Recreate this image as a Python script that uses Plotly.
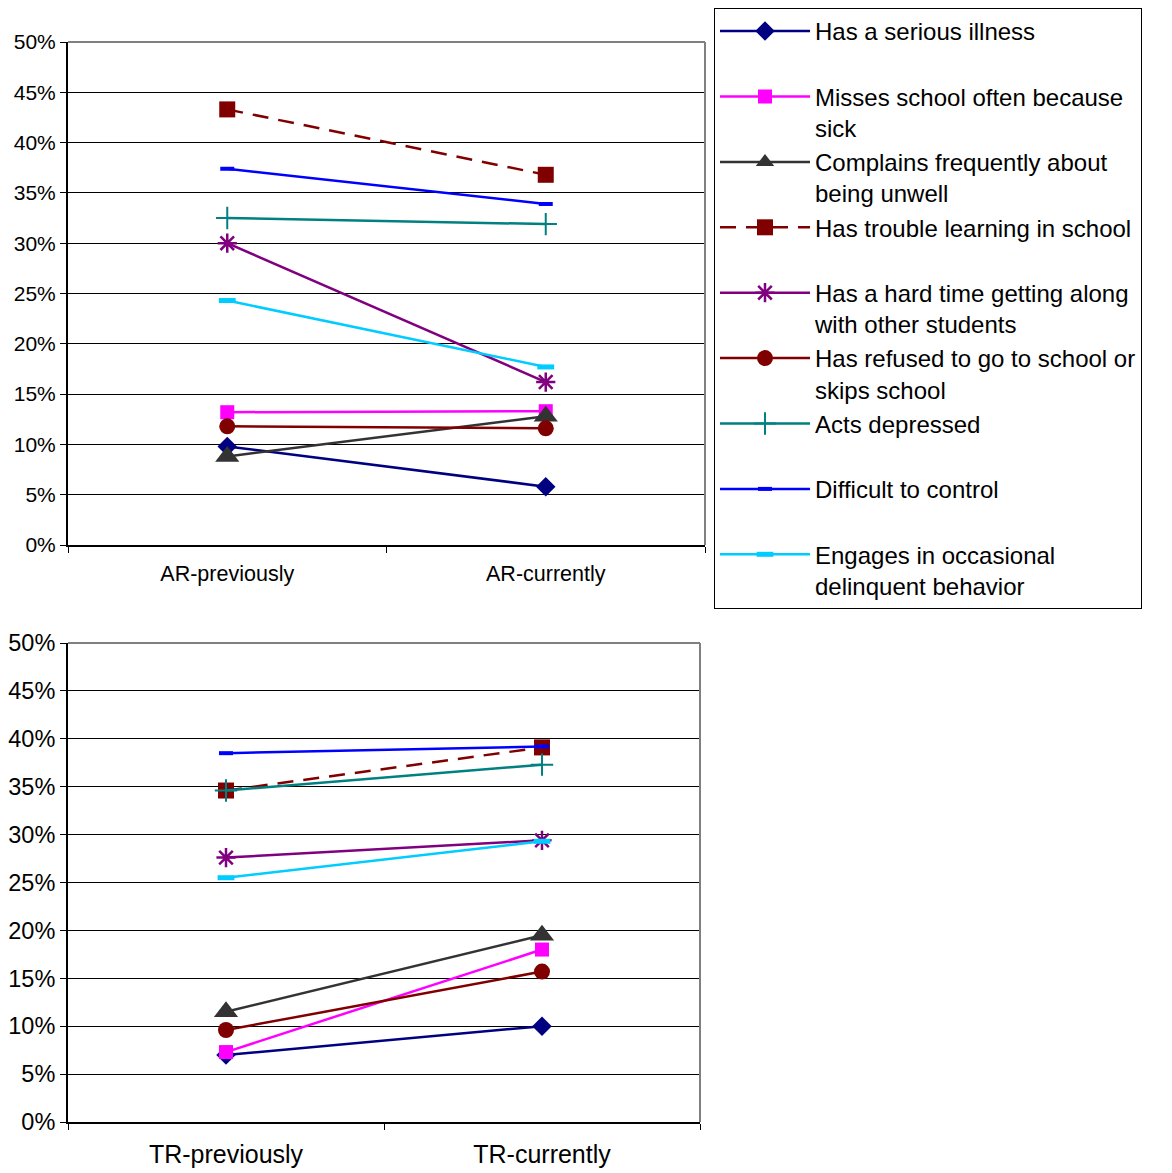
import plotly.graph_objects as go

W, H = 1172, 1173
OFF = 8  # page body margin of the html page

series = [
    "Has a serious illness",
    "Misses school often because<br>sick",
    "Complains frequently about<br>being unwell",
    "Has trouble learning in school",
    "Has a hard time getting along<br>with other students",
    "Has refused to go to school or<br>skips school",
    "Acts depressed",
    "Difficult to control",
    "Engages in occasional<br>delinquent behavior",
]

ar_categories = ["AR-previously", "AR-currently"]
tr_categories = ["TR-previously", "TR-currently"]

ar_values = [
    [9.8, 5.8],
    [13.2, 13.3],
    [8.8, 12.8],
    [43.3, 36.8],
    [30.0, 16.2],
    [11.8, 11.6],
    [32.5, 31.9],
    [37.4, 33.9],
    [24.3, 17.7],
]

tr_values = [
    [7.0, 10.0],
    [7.3, 18.0],
    [11.5, 19.5],
    [34.6, 39.1],
    [27.6, 29.4],
    [9.6, 15.7],
    [34.6, 37.3],
    [38.5, 39.2],
    [25.5, 29.3],
]

y_ticks = [0, 5, 10, 15, 20, 25, 30, 35, 40, 45, 50]
y_ticklabels = [f"{v}%" for v in y_ticks]

colors = ["#000080", "#FF00FF", "#333333", "#800000", "#800080",
          "#800000", "#008080", "#0000FF", "#00CCFF"]
dashes = ["solid", "solid", "solid", "16px,10px", "solid", "solid", "solid", "solid", "solid"]
markers = [
    dict(symbol="diamond", size=15),
    dict(symbol="square", size=14),
    dict(symbol="triangle-up", size=21),
    dict(symbol="square", size=16),
    dict(symbol="asterisk-open", size=16, line=dict(width=2.5)),
    dict(symbol="circle", size=16),
    dict(symbol="cross-thin-open", size=16, line=dict(width=2)),
    dict(symbol="line-ew-open", size=10, line=dict(width=4)),
    dict(symbol="line-ew-open", size=12, line=dict(width=5)),
]

fig = go.Figure()

for i, name in enumerate(series):
    label = name if "<br>" in name else name + "<br> "
    m = dict(markers[i])
    m["color"] = colors[i]
    if "line" in m:
        m["line"] = dict(m["line"], color=colors[i])
    fig.add_trace(go.Scatter(
        x=ar_categories, y=ar_values[i], name=label, mode="lines+markers",
        line=dict(color=colors[i], width=2.5, dash=dashes[i]),
        marker=m, xaxis="x", yaxis="y", legendgroup=str(i), showlegend=True,
    ))
    fig.add_trace(go.Scatter(
        x=tr_categories, y=tr_values[i], name=label, mode="lines+markers",
        line=dict(color=colors[i], width=2.5, dash=dashes[i]),
        marker=m, xaxis="x2", yaxis="y2", legendgroup=str(i), showlegend=False,
    ))

font_family = "Liberation Sans, Arial, sans-serif"

def px_x(p):
    return (p - OFF) / W

def px_y(p):
    return 1 - (p - OFF) / H

x1d = [px_x(68), px_x(705)]
y1d = [px_y(545), px_y(42)]
x2d = [px_x(68), px_x(700)]
y2d = [px_y(1122), px_y(643)]

def xax(domain, anchor, size, standoff):
    return dict(domain=domain, anchor=anchor, range=[-0.5, 1.5], type="category",
                showgrid=False, showline=True, linecolor="#000000", linewidth=2,
                ticks="outside", tickson="boundaries", ticklen=6, tickcolor="#000000",
                tickfont=dict(size=size, color="#000000", family=font_family),
                zeroline=False, fixedrange=True, ticklabelstandoff=standoff,
                automargin=False)

def yax(domain, anchor, size):
    return dict(domain=domain, anchor=anchor, range=[0, 50], tickvals=y_ticks,
                ticktext=y_ticklabels, showgrid=True, gridcolor="#000000", gridwidth=1,
                showline=True, linecolor="#000000", linewidth=2,
                ticks="outside", ticklen=6, tickcolor="#000000",
                tickfont=dict(size=size, color="#000000", family=font_family),
                zeroline=False, fixedrange=True, automargin=False)

fig.update_layout(
    width=W, height=H,
    margin=dict(l=0, r=0, t=0, b=0, autoexpand=False),
    paper_bgcolor="white", plot_bgcolor="white",
    font=dict(family=font_family, color="#000000"),
    xaxis=xax(x1d, "y", 21.5, 8),
    yaxis=yax(y1d, "x", 21),
    xaxis2=xax(x2d, "y2", 25, 9),
    yaxis2=yax(y2d, "x2", 23.5),
    legend=dict(
        x=px_x(714), y=1.0, xanchor="left", yanchor="top",
        bordercolor="#000000", borderwidth=1, bgcolor="white",
        font=dict(size=24, color="#000000", family=font_family),
        itemwidth=90, valign="top", tracegroupgap=0, traceorder="normal",
    ),
    shapes=[
        dict(type="line", xref="x domain", yref="y domain", x0=0, x1=1, y0=1, y1=1,
             line=dict(color="#808080", width=2)),
        dict(type="line", xref="x domain", yref="y domain", x0=1, x1=1, y0=0, y1=1,
             line=dict(color="#808080", width=2)),
        dict(type="line", xref="x2 domain", yref="y2 domain", x0=0, x1=1, y0=1, y1=1,
             line=dict(color="#808080", width=2)),
        dict(type="line", xref="x2 domain", yref="y2 domain", x0=1, x1=1, y0=0, y1=1,
             line=dict(color="#808080", width=2)),
    ],
    showlegend=True,
)

fig.write_html("out.html")
